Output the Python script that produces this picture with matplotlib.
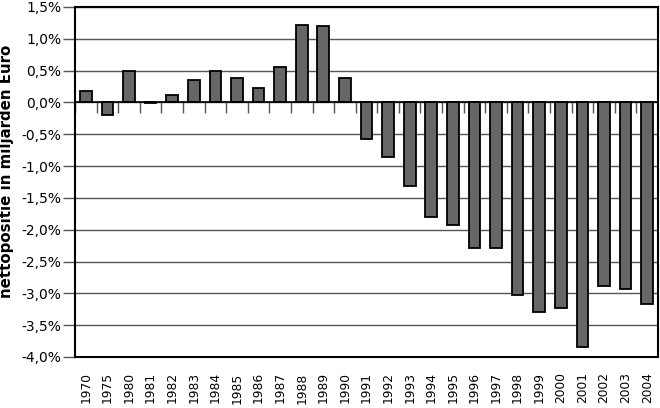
import matplotlib
matplotlib.use("Agg")
import matplotlib.pyplot as plt
import numpy as np

years = ["1970", "1975", "1980", "1981", "1982", "1983", "1984", "1985", "1986",
         "1987", "1988", "1989", "1990", "1991", "1992", "1993", "1994", "1995",
         "1996", "1997", "1998", "1999", "2000", "2001", "2002", "2003", "2004"]
values = [0.18, -0.19, 0.49, -0.01, 0.11, 0.35, 0.50, 0.39, 0.23,
          0.55, 1.21, 1.20, 0.38, -0.57, -0.86, -1.31, -1.80, -1.93,
          -2.29, -2.29, -3.02, -3.30, -3.23, -3.84, -2.88, -2.93, -3.16]
yticks = [1.5, 1.0, 0.5, 0.0, -0.5, -1.0, -1.5, -2.0, -2.5, -3.0, -3.5, -4.0]
ylabel = "nettopositie in miljarden Euro"

plt.rcParams['font.family'] = ['DejaVu Sans']

fig = plt.figure(figsize=(6.6, 4.08), dpi=100)
ax = fig.add_axes([75/660, 1 - 357/408, 583/660, 350/408])

x = np.arange(len(years))
ax.set_axisbelow(True)
for t in yticks:
    ax.axhline(t, color="#555555", lw=1.0, zorder=0)
ax.bar(x, values, width=0.54, color="#666666", edgecolor="black", linewidth=1.3, zorder=2)
ax.axhline(0, color="black", lw=1.2, zorder=3)
ax.vlines(np.arange(len(years) + 1) - 0.5, -0.16, 0, color="#555555", lw=1.0, zorder=1)

ax.set_xlim(-0.5, len(years) - 0.5)
ax.set_ylim(-4.0, 1.5)
ax.set_yticks(yticks)
ax.set_yticklabels([("%.1f%%" % t).replace(".", ",") for t in yticks], fontsize=10)
ax.set_xticks(x)
ax.set_xticklabels(years, rotation=90, fontsize=8.8)
ax.tick_params(axis="x", length=0, pad=11)
ax.tick_params(axis="y", length=9, width=1, pad=1, color="#555555")
for s in ax.spines.values():
    s.set_linewidth(1.5)
ax.set_ylabel(ylabel, fontsize=10.8, fontweight="bold")
ax.yaxis.set_label_coords(-0.105, 0.53)

fig.savefig("out.png", dpi=100)
